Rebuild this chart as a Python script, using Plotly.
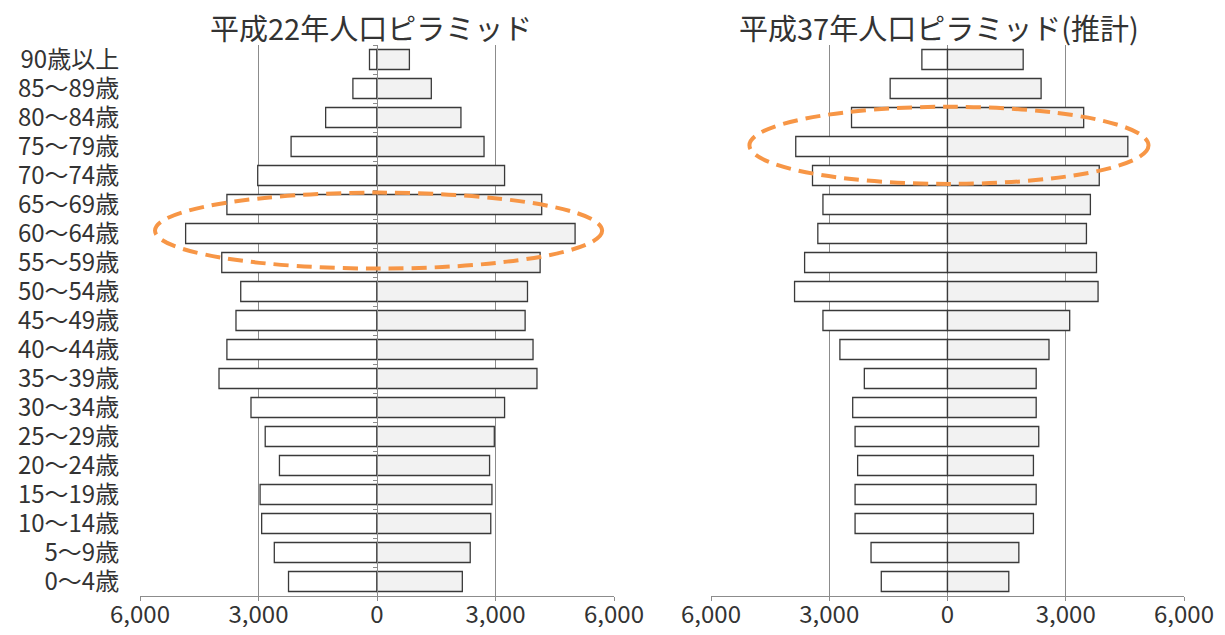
import plotly.graph_objects as go

ages = ["0～4歳", "5～9歳", "10～14歳", "15～19歳", "20～24歳", "25～29歳", "30～34歳",
        "35～39歳", "40～44歳", "45～49歳", "50～54歳", "55～59歳", "60～64歳", "65～69歳",
        "70～74歳", "75～79歳", "80～84歳", "85～89歳", "90歳以上"]

# 平成22年 (bottom -> top)
h22_left = [2240, 2600, 2920, 2960, 2470, 2830, 3190, 4000, 3800, 3570, 3450, 3930, 4845, 3800,
            3020, 2175, 1300, 610, 190]
h22_right = [2160, 2360, 2880, 2910, 2850, 2970, 3230, 4050, 3950, 3750, 3810, 4130, 5015, 4170,
             3230, 2710, 2125, 1375, 820]

# 平成37年 (推計)
h37_left = [1680, 1940, 2345, 2345, 2280, 2345, 2405, 2110, 2730, 3160, 3880, 3625, 3290, 3160,
            3425, 3850, 2435, 1455, 650]
h37_right = [1555, 1810, 2180, 2250, 2180, 2315, 2250, 2250, 2575, 3100, 3820, 3780, 3525, 3625,
             3850, 4575, 3455, 2375, 1920]

tick_vals = [-6000, -3000, 0, 3000, 6000]
tick_text = ["6,000", "3,000", "0", "3,000", "6,000"]

titles = ["平成22年人口ピラミッド", "平成37年人口ピラミッド(推計)"]

FONT = "Noto Sans CJK JP"
TXT = "#333333"
GRID = "#8c8c8c"
EDGE = "#3a3a3a"
ORANGE = "#F79646"

fig = go.Figure()

datasets = [(h22_left, h22_right, "x", "y"), (h37_left, h37_right, "x2", "y2")]
for left, right, xa, ya in datasets:
    fig.add_trace(go.Bar(y=ages, x=[-v for v in left], orientation="h", xaxis=xa, yaxis=ya,
                         marker=dict(color="white", line=dict(color=EDGE, width=1.3)),
                         showlegend=False, hoverinfo="skip"))
    fig.add_trace(go.Bar(y=ages, x=right, orientation="h", xaxis=xa, yaxis=ya,
                         marker=dict(color="#f2f2f2", line=dict(color=EDGE, width=1.3)),
                         showlegend=False, hoverinfo="skip"))

# page body has an 8px margin: work in screen pixels minus 8
OFF = 8
W, H = 1225 - 2 * OFF, 635 - 2 * OFF


def px(v):
    return (v - OFF) / W


def py(v):
    return 1 - (v - OFF) / H


ydom = [py(596), py(45)]
xdom1 = [px(140), px(614)]
xdom2 = [px(711), px(1184)]

xcommon = dict(range=[-6000, 6000], tickvals=tick_vals, ticktext=tick_text,
               showgrid=True, gridcolor=GRID, gridwidth=1,
               zeroline=True, zerolinecolor=GRID, zerolinewidth=1,
               showline=True, linecolor=GRID, linewidth=1,
               ticks="outside", ticklen=4, tickcolor=GRID, automargin=False,
               ticklabelstandoff=-7,
               tickfont=dict(family=FONT, size=24, color=TXT), fixedrange=True)

fig.update_layout(
    width=W, height=H, margin=dict(l=0, r=0, t=0, b=0, autoexpand=False),
    paper_bgcolor="white", plot_bgcolor="white",
    barmode="overlay", bargap=0.31,
    xaxis=dict(domain=xdom1, anchor="y", **xcommon),
    xaxis2=dict(domain=xdom2, anchor="y2", **xcommon),
    yaxis=dict(domain=ydom, anchor="free", position=px(377), automargin=False,
               type="category", categoryorder="array", categoryarray=ages,
               tickmode="array", tickvals=ages, ticktext=ages,
               showgrid=False, showline=True, linecolor=GRID, linewidth=1,
               ticks="outside", ticklen=4, tickcolor=GRID, tickson="boundaries",
               ticklabelstandoff=253,
               tickfont=dict(family=FONT, size=24, color=TXT), fixedrange=True),
    yaxis2=dict(domain=ydom, anchor="x2", type="category", categoryorder="array",
                categoryarray=ages, showgrid=False, showticklabels=False, showline=False,
                ticks="", fixedrange=True, automargin=False),
)

# titles
fig.add_annotation(text=titles[0], x=px(371), y=py(27), xanchor="center", yanchor="middle",
                   xref="paper", yref="paper", showarrow=False,
                   font=dict(family=FONT, size=29, color=TXT))
fig.add_annotation(text=titles[1], x=px(939), y=py(27), xanchor="center", yanchor="middle",
                   xref="paper", yref="paper", showarrow=False,
                   font=dict(family=FONT, size=29, color=TXT))

# highlight ellipses
fig.add_shape(type="circle", xref="x", yref="y", x0=-5620, x1=5700, y0=10.79, y1=13.41,
              line=dict(color=ORANGE, width=4, dash="15px,8px"), fillcolor="rgba(0,0,0,0)")
fig.add_shape(type="circle", xref="x2", yref="y2", x0=-5025, x1=5100, y0=13.71, y1=16.37,
              line=dict(color=ORANGE, width=4, dash="15px,8px"), fillcolor="rgba(0,0,0,0)")

fig.write_html("out.html")
